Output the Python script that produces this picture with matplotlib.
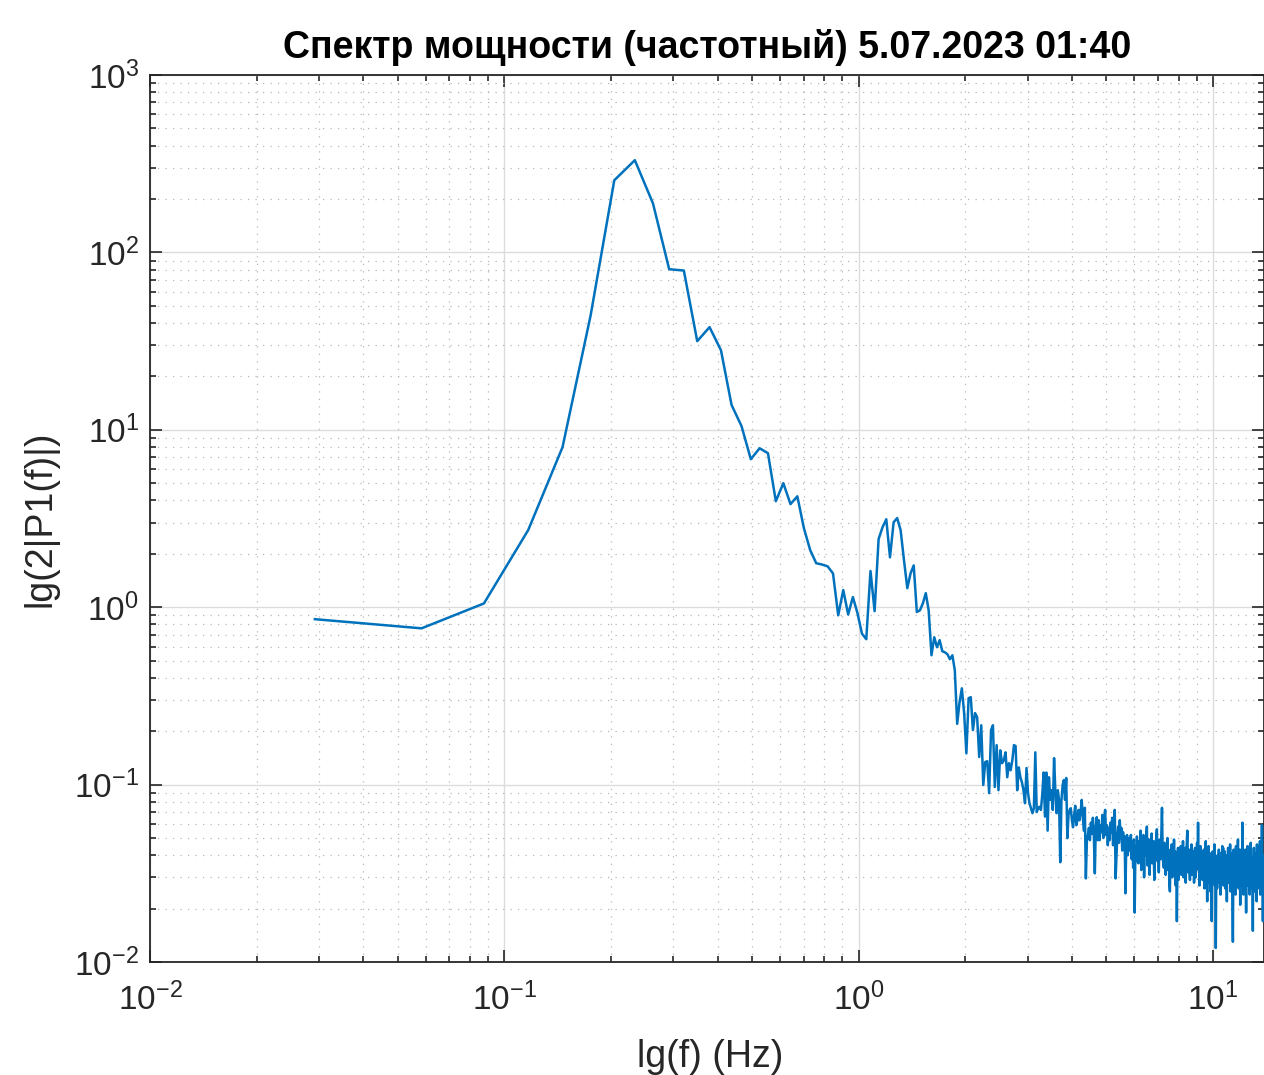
import numpy as np
import matplotlib
matplotlib.use("Agg")
import matplotlib.pyplot as plt
from matplotlib.ticker import LogLocator, NullFormatter

plt.rcParams["font.family"] = ["Liberation Sans", "DejaVu Sans"]
plt.rcParams["mathtext.fontset"] = "custom"
plt.rcParams["mathtext.rm"] = "Liberation Sans"

TITLE = "Спектр мощности (частотный) 5.07.2023 01:40"
XLABEL = "lg(f) (Hz)"
YLABEL = "lg(2|P1(f)|)"

# шаг по частоте (Гц) и амплитуды по бинам k = 1, 2, 3, ...
DF = 0.0292

amp_low = [
    0.856, 0.76, 1.05, 2.72, 7.98, 44.0, 255.0, 331.0, 189.0, 80.4,
    79.0, 31.6, 37.9, 28.1, 13.8, 10.5, 6.83, 7.87, 7.38, 3.96,
    5.0, 3.81, 4.22, 2.79, 2.10, 1.77, 1.74, 1.70, 1.55, 0.90,
    1.25, 0.91, 1.14, 0.925, 0.71, 0.66, 1.60, 0.95, 2.42, 2.82,
    3.13, 1.91, 3.01, 3.18, 2.72, 1.84, 1.28, 1.55, 1.72, 0.94,
    0.96, 1.05, 1.20, 0.96, 0.536, 0.677, 0.595, 0.652, 0.565, 0.557,
    0.543, 0.509, 0.536, 0.441,
]

amp_mid = [
    0.22, 0.291, 0.349, 0.253, 0.150, 0.307, 0.311, 0.203, 0.253, 0.240,
    0.143, 0.216, 0.0994, 0.134, 0.1355, 0.0895, 0.203, 0.216, 0.097, 0.167,
    0.093, 0.156, 0.132, 0.137, 0.152, 0.110, 0.132, 0.1205, 0.137, 0.167,
    0.165, 0.093, 0.125, 0.110, 0.103, 0.093, 0.0785, 0.124, 0.0895, 0.0785,
    0.0736, 0.069, 0.0736, 0.152, 0.070, 0.0736, 0.075, 0.072, 0.088, 0.117,
    0.066, 0.117, 0.055, 0.110, 0.082, 0.093, 0.072, 0.141, 0.093, 0.069,
    0.093, 0.082, 0.0365, 0.082, 0.0994, 0.106, 0.082, 0.109, 0.0499, 0.0675,
    0.072, 0.0736, 0.063, 0.0575, 0.0675, 0.076, 0.059, 0.063, 0.072, 0.063,
    0.070, 0.082, 0.0675, 0.055, 0.074, 0.0296, 0.0486, 0.052, 0.057, 0.0486,
    0.061, 0.053, 0.065, 0.051, 0.0316, 0.058, 0.0655, 0.0486, 0.063, 0.0486,
    0.059, 0.054, 0.0675, 0.050, 0.061, 0.072, 0.052, 0.059, 0.0455, 0.057,
    0.0486, 0.061, 0.054, 0.065, 0.0455, 0.058, 0.072, 0.0296, 0.040, 0.052,
    0.058, 0.047, 0.063, 0.050, 0.057, 0.0425, 0.054, 0.0455, 0.051, 0.0244,
    0.0455, 0.052, 0.040, 0.0467, 0.050, 0.0425,
]

amp_high = [
    0.052, 0.038, 0.047, 0.034, 0.049, 0.019, 0.045, 0.037, 0.051, 0.044,
    0.036, 0.048, 0.041, 0.055, 0.033, 0.046, 0.039, 0.052, 0.030, 0.047,
    0.040, 0.050, 0.058, 0.035, 0.044, 0.049, 0.031, 0.045, 0.038, 0.053,
    0.036, 0.041, 0.048, 0.029, 0.046, 0.040, 0.051, 0.056, 0.037, 0.043,
    0.032, 0.049, 0.045, 0.038, 0.054, 0.074, 0.042, 0.036, 0.034, 0.047,
    0.039, 0.031, 0.044, 0.036, 0.050, 0.033, 0.041, 0.028, 0.025, 0.043,
    0.037, 0.046, 0.030, 0.040, 0.035, 0.049, 0.032, 0.042, 0.027, 0.038,
    0.017, 0.036, 0.044, 0.029, 0.039, 0.033, 0.034, 0.045, 0.031, 0.040,
    0.036, 0.048, 0.030, 0.041, 0.035, 0.044, 0.028, 0.039, 0.047, 0.055,
    0.038, 0.032, 0.043, 0.036, 0.029, 0.041, 0.034, 0.046, 0.031, 0.039,
    0.035, 0.042, 0.028, 0.037, 0.044, 0.030, 0.039, 0.033, 0.047, 0.036,
    0.061, 0.034, 0.040, 0.027, 0.038, 0.045, 0.031, 0.036, 0.042, 0.029,
    0.037, 0.033, 0.043, 0.026, 0.039, 0.035, 0.048, 0.030, 0.037, 0.022,
    0.040, 0.034, 0.045, 0.028, 0.036, 0.041, 0.025, 0.038, 0.032, 0.017,
    0.035, 0.042, 0.029, 0.037, 0.033, 0.046, 0.027, 0.036, 0.012, 0.031,
    0.038, 0.026, 0.040, 0.034, 0.030, 0.043, 0.028, 0.036, 0.041, 0.024,
    0.033, 0.039, 0.029, 0.045, 0.035, 0.044, 0.027, 0.037, 0.031, 0.042,
    0.026, 0.036, 0.033, 0.040, 0.022, 0.038, 0.030, 0.044, 0.034, 0.028,
    0.039, 0.032, 0.046, 0.025, 0.036, 0.041, 0.029, 0.034, 0.020, 0.013,
    0.031, 0.043, 0.027, 0.036, 0.033, 0.039, 0.024, 0.045, 0.030, 0.035,
    0.028, 0.040, 0.049, 0.032, 0.026, 0.038, 0.034, 0.043, 0.021, 0.036,
    0.030, 0.041, 0.027, 0.035, 0.061, 0.029, 0.037, 0.024, 0.040, 0.032,
    0.036, 0.026, 0.043, 0.031, 0.019, 0.035, 0.039, 0.028, 0.045, 0.033,
    0.027, 0.038, 0.030, 0.042, 0.024, 0.036, 0.032, 0.047, 0.026, 0.034,
    0.039, 0.029, 0.035, 0.015, 0.037, 0.031, 0.044, 0.025, 0.036, 0.030,
    0.041, 0.027, 0.034, 0.038, 0.022, 0.046, 0.031, 0.036, 0.028, 0.043,
    0.033, 0.026, 0.039, 0.030, 0.048, 0.024, 0.035, 0.031, 0.042, 0.027,
    0.059, 0.029, 0.037, 0.017, 0.040, 0.032, 0.036,
]

amp = np.array(amp_low + amp_mid + amp_high)
freq = DF * np.arange(1, len(amp) + 1)

W, H = 1264, 1075
fig = plt.figure(figsize=(W / 100, H / 100), dpi=100)
ax = fig.add_axes([150 / W, (H - 962) / H, (W - 150) / W, (962 - 75) / H])

ax.plot(freq, amp, color="#0072BD", linewidth=1.8, zorder=3)

ax.set_xscale("log")
ax.set_yscale("log")
ax.set_xlim(0.01, 13.94)
ax.set_ylim(1e-2, 1e3)

for a in (ax.xaxis, ax.yaxis):
    a.set_major_locator(LogLocator(base=10, numticks=20))
    a.set_minor_locator(LogLocator(base=10, subs=np.arange(2, 10), numticks=20))
    a.set_minor_formatter(NullFormatter())

ax.grid(True, which="major", color="#dcdcdc", linewidth=1.0, linestyle="-")
ax.grid(True, which="minor", color="#b8b8b8", linewidth=0.9, linestyle=(0, (1, 5)))
ax.set_axisbelow(True)

ax.tick_params(which="both", direction="in", top=True, right=True,
               colors="#262626", labelsize=24, width=1.2)
ax.tick_params(which="major", length=8.5)
ax.tick_params(which="minor", length=4.5)
ax.tick_params(axis="x", which="major", pad=15)
ax.tick_params(axis="y", which="major", pad=8)
for s in ax.spines.values():
    s.set_linewidth(1.3)
    s.set_color("#262626")

ax.set_title(TITLE, fontsize=27, fontweight="bold", pad=12, color="black")
ax.set_xlabel(XLABEL, fontsize=27, color="#262626")
ax.set_ylabel(YLABEL, fontsize=27, color="#262626")
ax.xaxis.set_label_coords(0.503, -0.107)
ax.yaxis.set_label_coords(-0.098, 0.5)
ax.xaxis.label.set_va("center")
ax.yaxis.label.set_va("center")

fig.savefig("out.png", dpi=100)
